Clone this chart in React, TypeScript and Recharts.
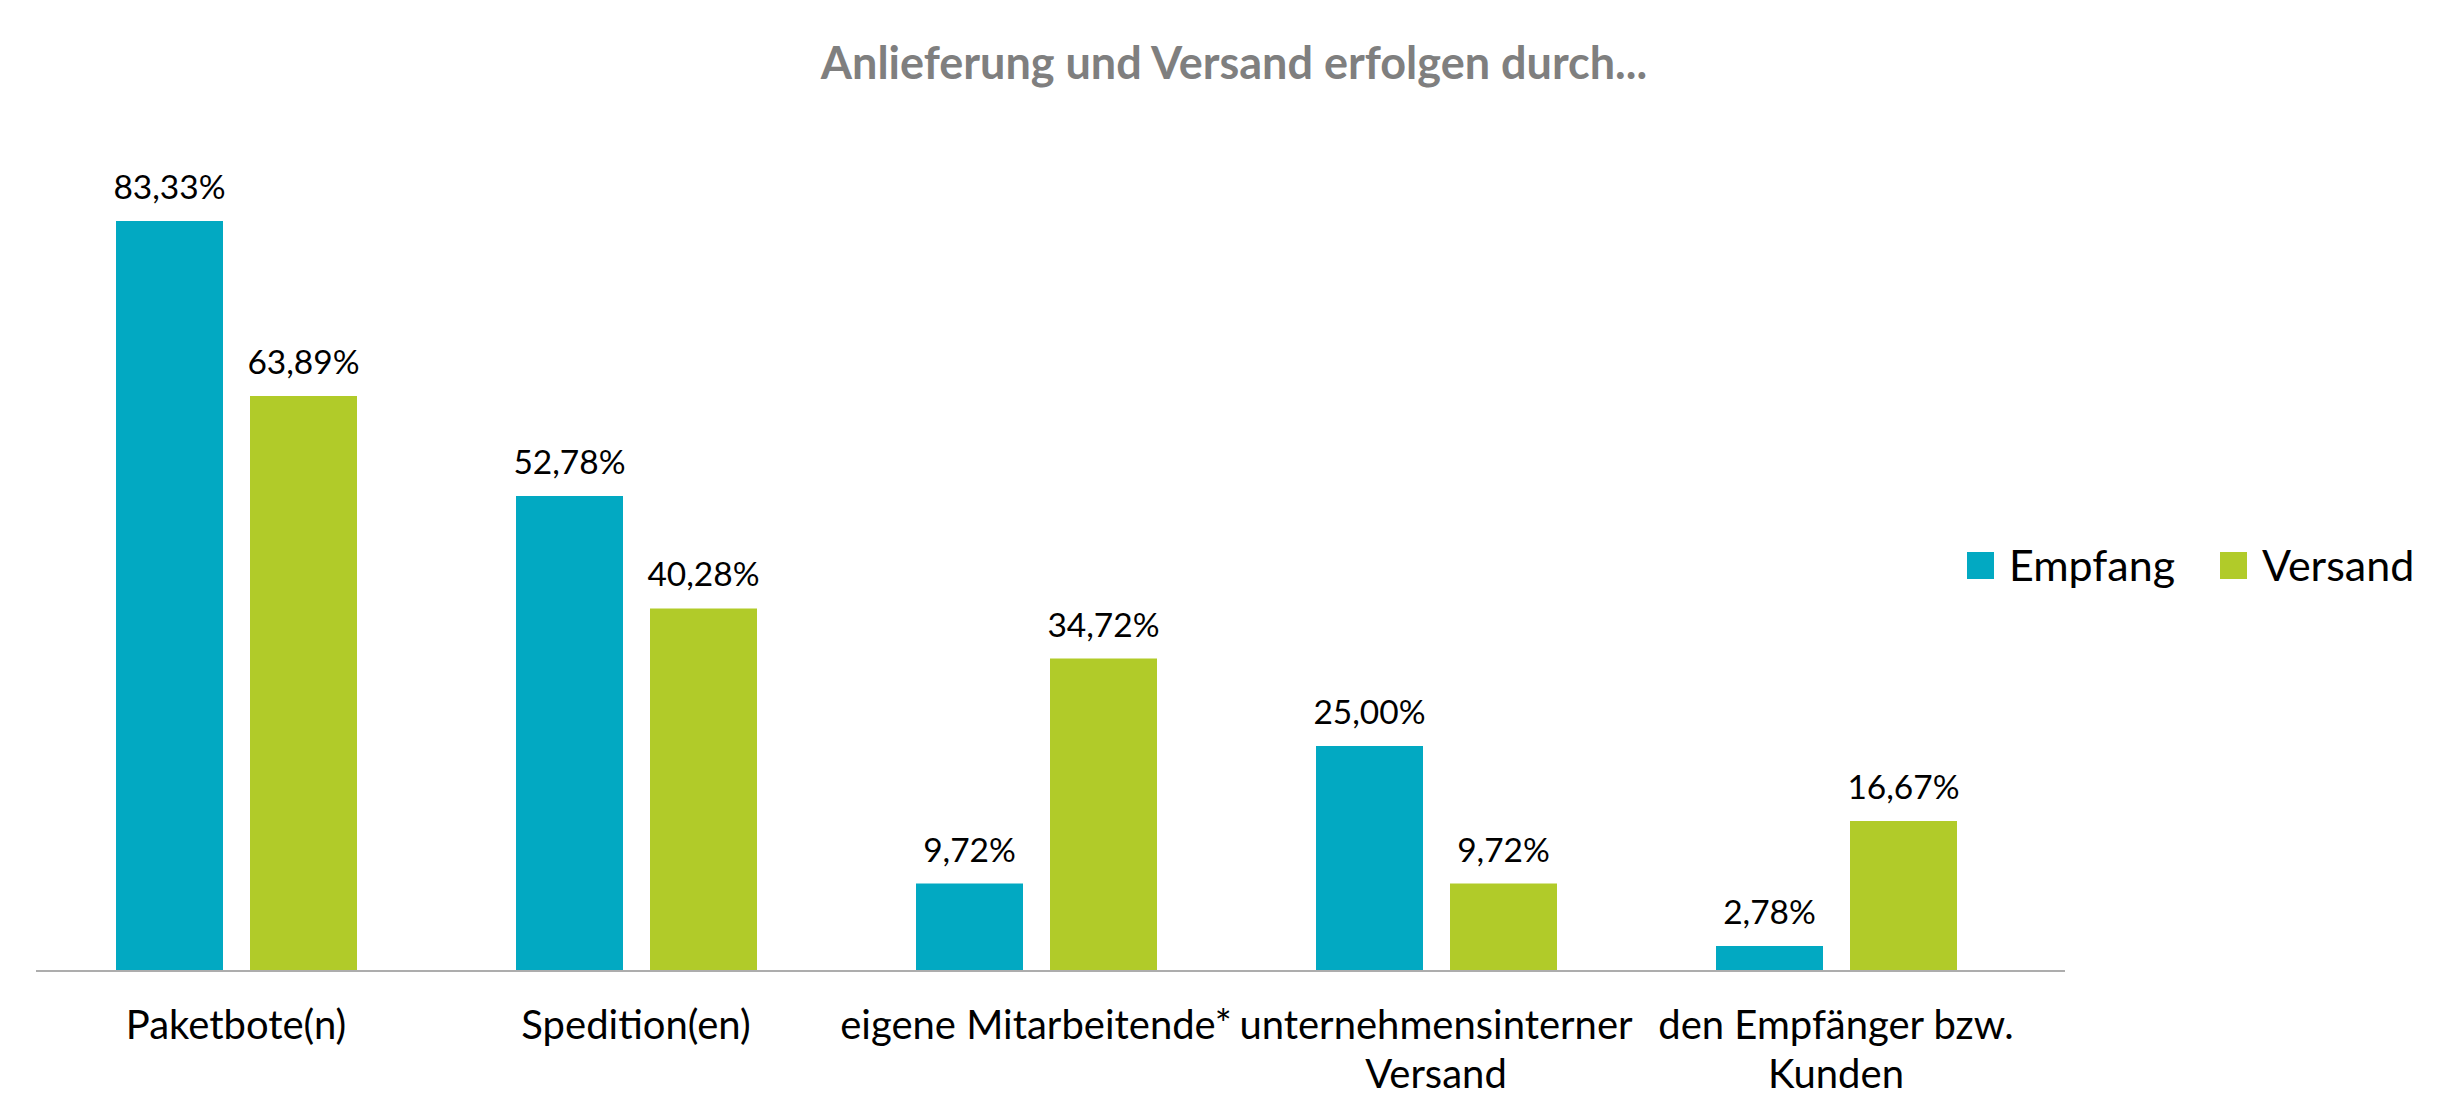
import React from "react";
import { BarChart, Bar, XAxis, YAxis, LabelList, Legend } from "recharts";

const categories = [
  "Paketbote(n)",
  "Spedition(en)",
  "eigene Mitarbeitende*",
  "unternehmensinterner Versand",
  "den Empfänger bzw. Kunden",
];
const categoryLines = [
  ["Paketbote(n)"],
  ["Spedition(en)"],
  ["eigene Mitarbeitende*"],
  ["unternehmensinterner", "Versand"],
  ["den Empfänger bzw.", "Kunden"],
];
const empfang = [83.33, 52.78, 9.72, 25.0, 2.78];
const versand = [63.89, 40.28, 34.72, 9.72, 16.67];
const seriesNames = ["Empfang", "Versand"];
const title = "Anlieferung und Versand erfolgen durch...";

const COLORS = ["#02A9C2", "#B1CB29"];
const FONT = "Lato, 'Open Sans', sans-serif";

const data = categories.map((c, i) => ({
  name: c,
  Empfang: empfang[i],
  Versand: versand[i],
}));

const fmt = (v: any) => Number(v).toFixed(2).replace(".", ",") + "%";

const CategoryTick = (props: any) => {
  const { x, y, index } = props;
  const lines = categoryLines[index] || [String(props.payload?.value ?? "")];
  return (
    <g>
      {lines.map((ln: string, k: number) => (
        <text
          key={k}
          x={x}
          y={y + 68 + k * 49}
          textAnchor="middle"
          fontFamily={FONT}
          fontSize={40}
          fill="#000"
        >
          {ln}
        </text>
      ))}
    </g>
  );
};

const LegendContent = (props: any) => {
  const payload = props.payload || [];
  return (
    <div style={{ display: "flex", alignItems: "center", fontFamily: FONT }}>
      {payload.map((p: any, i: number) => (
        <div
          key={i}
          style={{ display: "flex", alignItems: "center", marginRight: i === 0 ? 45 : 0 }}
        >
          <div style={{ width: 27, height: 27, background: p.color, marginRight: 15 }} />
          <span style={{ fontSize: 43, color: "#000", lineHeight: "52px" }}>{p.value}</span>
        </div>
      ))}
    </div>
  );
};

export default function App() {
  return (
    <div style={{ position: "absolute", left: 0, top: 0, width: 2448, height: 1097, background: "#fff" }}>
      <div
        style={{
          position: "absolute",
          left: 0,
          width: 2468,
          top: 40,
          textAlign: "center",
          fontFamily: FONT,
          fontWeight: 700,
          fontSize: 45,
          lineHeight: "45px",
          color: "#7F7F7F",
        }}
      >
        {title}
      </div>
      <BarChart
        width={2448}
        height={1097}
        data={data}
        margin={{ top: 71, right: 383, bottom: 0, left: 36 }}
        barCategoryGap={79.5}
        barGap={27}
        style={{ position: "absolute", left: 0, top: 0 }}
      >
        <XAxis
          dataKey="name"
          axisLine={{ stroke: "#ADADAD", strokeWidth: 2 }}
          tickLine={false}
          tickSize={0}
          tickMargin={0}
          interval={0}
          padding={{ left: 0, right: 29 }}
          tick={<CategoryTick />}
          height={126}
        />
        <YAxis hide domain={[0, 100]} />
        <Legend
          layout="horizontal"
          verticalAlign="middle"
          align="center"
          content={<LegendContent />}
          wrapperStyle={{ position: "absolute", left: 1967, top: 539, width: 470, height: 52 }}
        />
        {seriesNames.map((s, i) => (
          <Bar key={s} dataKey={s} fill={COLORS[i]} barSize={107} isAnimationActive={false}>
            <LabelList
              dataKey={s}
              position="top"
              offset={22}
              formatter={fmt}
              fontFamily={FONT}
              fontSize={33.5}
              fill="#000"
            />
          </Bar>
        ))}
      </BarChart>
    </div>
  );
}
